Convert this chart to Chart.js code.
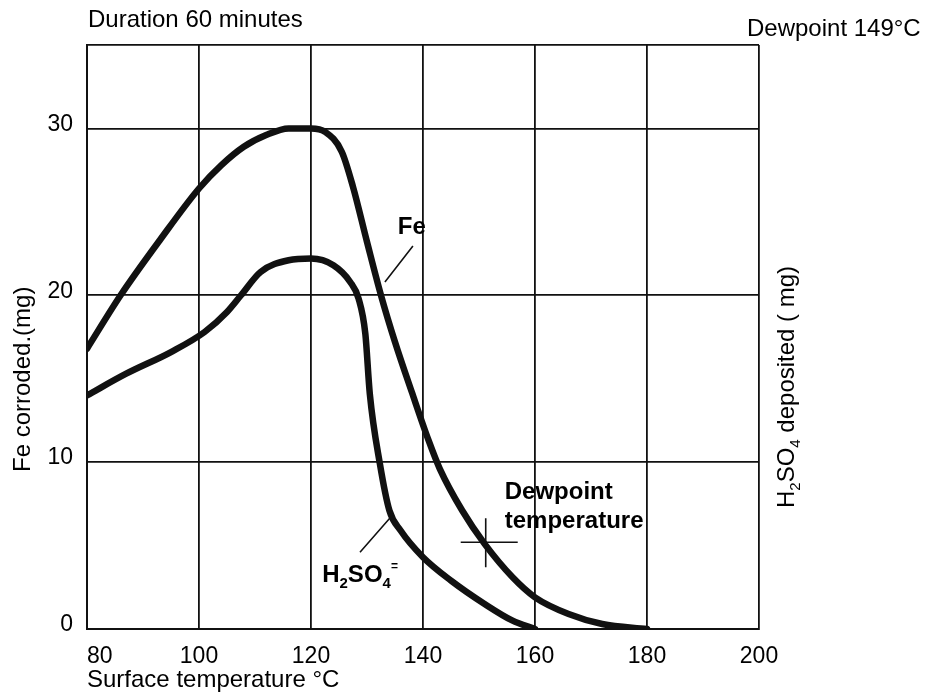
<!DOCTYPE html>
<html>
<head>
<meta charset="utf-8">
<script src="https://cdn.jsdelivr.net/npm/chart.js@4.4.0/dist/chart.umd.min.js"></script>
<style>
  html, body { margin: 0; padding: 0; background: #fff; }
</style>
</head>
<body>
<canvas id="chart" width="929" height="699"></canvas>
<script>
// values (surface temperature in °C, mass in mg)
const feTemp = [80, 86, 93, 100, 104, 108, 112, 116, 120, 122.5, 125.5, 127.5, 130, 132.5, 135, 138, 141, 143, 147, 151, 156, 160, 166, 172, 180];
const feVal  = [16.8, 20, 23.3, 26.4, 27.8, 28.9, 29.6, 30, 30, 29.8, 28.6, 26.5, 23.2, 20, 17.2, 14.2, 11.3, 9.6, 7.1, 5.1, 3.1, 1.9, 0.9, 0.3, 0];

const acidTemp = [80, 87, 95, 101, 105, 107.5, 111, 116, 120, 124, 127, 128.5, 129.7, 130.5, 132.3, 134, 136, 140, 145, 151, 156, 160];
const acidVal  = [14, 15.3, 16.6, 17.8, 19, 20, 21.4, 22.1, 22.2, 21.8, 20.8, 19.8, 17.7, 14.1, 9.9, 7.1, 5.9, 4.3, 2.9, 1.5, 0.5, 0];

const xTicks = [80, 100, 120, 140, 160, 180, 200];
const yTicks = [0, 10, 20, 30];
const dewMark = [151.2, 5.2];

const FONT = "'Liberation Sans', Arial, Helvetica, sans-serif";
const INK = '#111';

const toPoints = (xs, ys) => xs.map((t, i) => ({ x: t, y: ys[i] }));

// draws text made of pieces (for subscripts), returns end x
function drawPieces(ctx, parts, x, y) {
  let cx = x;
  parts.forEach(p => {
    ctx.font = (p.bold ? 'bold ' : '') + p.size + 'px ' + FONT;
    ctx.fillText(p.t, cx, y + (p.dy || 0));
    cx += ctx.measureText(p.t).width;
  });
  return cx;
}

const notes = {
  id: 'notes',
  afterDraw(chart) {
    const { ctx, scales: { x, y } } = chart;
    const px = v => x.getPixelForValue(v);
    const py = v => y.getPixelForValue(v);
    ctx.save();
    ctx.fillStyle = '#000';
    ctx.strokeStyle = INK;
    ctx.textBaseline = 'alphabetic';
    ctx.textAlign = 'left';

    ctx.font = '24px ' + FONT;
    ctx.fillText('Duration 60 minutes', 88, 27);
    ctx.fillText('Dewpoint 149°C', 747, 36);

    // curve labels
    ctx.font = 'bold 24px ' + FONT;
    ctx.fillText('Fe', px(135.5), py(23.7));
    ctx.fillText('Dewpoint', px(154.6), py(7.8));
    ctx.fillText('temperature', px(154.6), py(6.05));
    drawPieces(ctx, [
      { t: 'H', size: 24, bold: true },
      { t: '2', size: 15, bold: true, dy: 6 },
      { t: 'SO', size: 24, bold: true },
      { t: '4', size: 15, bold: true, dy: 6 },
      { t: '=', size: 12, bold: true, dy: -12 }
    ], px(122), py(2.8));

    ctx.lineWidth = 1.6;
    ctx.beginPath();
    ctx.moveTo(px(138.2), py(22.95));
    ctx.lineTo(px(133.2), py(20.8));
    ctx.moveTo(px(128.75), py(4.6));
    ctx.lineTo(px(134.1), py(6.65));
    // dewpoint cross
    const cx = px(dewMark[0]), cy = py(dewMark[1]);
    ctx.moveTo(cx - 25, cy);
    ctx.lineTo(cx + 32, cy);
    ctx.moveTo(cx, cy - 24);
    ctx.lineTo(cx, cy + 25);
    ctx.stroke();

    // vertical axis titles, reading upward
    ctx.save();
    ctx.translate(30, 472);
    ctx.rotate(-Math.PI / 2);
    ctx.font = '24px ' + FONT;
    ctx.fillText('Fe corroded.(mg)', 0, 0);
    ctx.restore();

    ctx.save();
    ctx.translate(794, 508);
    ctx.rotate(-Math.PI / 2);
    drawPieces(ctx, [
      { t: 'H', size: 24 },
      { t: '2', size: 15, dy: 6 },
      { t: 'SO', size: 24 },
      { t: '4', size: 15, dy: 6 },
      { t: ' deposited ( mg)', size: 24 }
    ], 0, 0);
    ctx.restore();

    ctx.restore();
  }
};

new Chart(document.getElementById('chart'), {
  type: 'line',
  data: {
    datasets: [
      {
        label: 'Fe corroded',
        data: toPoints(feTemp, feVal),
        borderColor: INK,
        borderWidth: 6.5,
        pointRadius: 0,
        cubicInterpolationMode: 'monotone',
        borderCapStyle: 'round',
        borderJoinStyle: 'round',
        fill: false
      },
      {
        label: 'H2SO4 deposited',
        data: toPoints(acidTemp, acidVal),
        borderColor: INK,
        borderWidth: 6.5,
        pointRadius: 0,
        cubicInterpolationMode: 'monotone',
        borderCapStyle: 'round',
        borderJoinStyle: 'round',
        fill: false
      }
    ]
  },
  options: {
    responsive: false,
    animation: false,
    layout: { padding: { top: 45, left: 0, right: 0, bottom: 0 } },
    plugins: {
      legend: { display: false },
      tooltip: { enabled: false }
    },
    scales: {
      x: {
        type: 'linear',
        min: xTicks[0],
        max: xTicks[xTicks.length - 1],
        afterBuildTicks: s => { s.ticks = xTicks.map(v => ({ value: v })); },
        afterFit: s => { s.height = 70; },
        grid: { color: INK, lineWidth: 1.8, drawTicks: false },
        border: { color: INK, width: 2 },
        ticks: {
          padding: 14,
          color: '#000',
          font: { family: FONT, size: 23 },
          callback: v => (v === 80 ? '    80' : String(v))
        },
        title: {
          display: true,
          text: 'Surface temperature °C',
          align: 'start',
          color: '#000',
          font: { family: FONT, size: 24 },
          padding: { top: 0, bottom: 4 }
        }
      },
      y: {
        type: 'linear',
        min: 0,
        max: 35,
        afterBuildTicks: s => { s.ticks = yTicks.concat([35]).map(v => ({ value: v })); },
        afterFit: s => { s.width = 87; },
        grid: { color: INK, lineWidth: 1.8, drawTicks: false },
        border: { color: INK, width: 2 },
        ticks: {
          padding: 14,
          labelOffset: -4,
          color: '#000',
          font: { family: FONT, size: 23 },
          callback: v => (yTicks.includes(v) ? String(v) : '')
        }
      },
      y1: {
        position: 'right',
        min: 0,
        max: 35,
        afterFit: s => { s.width = 170; },
        grid: { display: false },
        border: { display: false },
        ticks: { display: false }
      }
    }
  },
  plugins: [notes]
});
</script>
</body>
</html>
